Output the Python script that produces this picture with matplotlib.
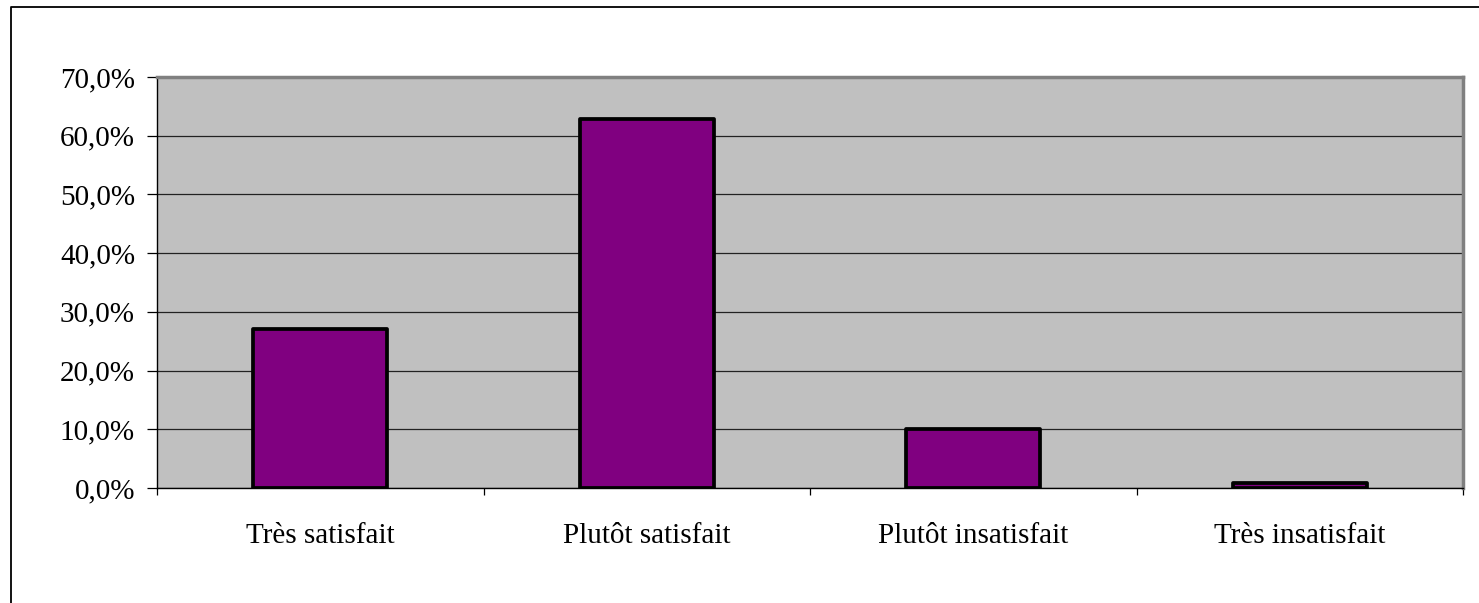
import matplotlib.pyplot as plt
from matplotlib.lines import Line2D
from matplotlib.ticker import FuncFormatter

categories = ['Très satisfait', 'Plutôt satisfait', 'Plutôt insatisfait', 'Très insatisfait']
values = [27.1, 62.9, 10.0, 0.8]
yticks = [0, 10, 20, 30, 40, 50, 60, 70]

W, H = 1479, 603
fig = plt.figure(figsize=(W / 100, H / 100), dpi=100)
fig.patch.set_facecolor('white')

ax = fig.add_axes([157 / W, 1 - 488 / H, (1463 - 157) / W, (488 - 77) / H])
ax.set_facecolor('#C0C0C0')

x = list(range(len(categories)))
ax.bar(x, values, width=0.41, color='#800080', edgecolor='black',
       linewidth=2.7, joinstyle='round', zorder=3)

ax.set_xlim(-0.5, len(categories) - 0.5)
ax.set_ylim(0, 70)
ax.set_yticks(yticks)
ax.yaxis.set_major_formatter(FuncFormatter(lambda v, p: ('%.1f%%' % v).replace('.', ',')))
ax.grid(axis='y', color='#222222', linewidth=0.9, zorder=1)

# category labels centred, ticks at the boundaries
ax.set_xticks([i - 0.5 for i in range(len(categories) + 1)])
ax.set_xticklabels([])
ax.set_xticks(x, minor=True)
ax.set_xticklabels(categories, minor=True)
ax.tick_params(axis='x', which='minor', length=0, pad=25)
ax.tick_params(axis='x', which='major', length=5, width=0.9, color='black')
ax.tick_params(axis='y', length=7.2, width=0.9, pad=8.6)

font = 'Liberation Serif'
for lab in ax.get_xticklabels(minor=True) + ax.get_yticklabels():
    lab.set_fontfamily(font)
    lab.set_fontsize(21)

for s in ['top', 'right']:
    ax.spines[s].set_color('#808080')
    ax.spines[s].set_linewidth(2.5)
for s in ['left', 'bottom']:
    ax.spines[s].set_color('black')
    ax.spines[s].set_linewidth(1.0)

# outer chart frame (runs off the right and bottom of the image)
fig.add_artist(Line2D([11 / W, 11 / W, 1.01], [-0.01, 1 - 7 / H, 1 - 7 / H],
                      transform=fig.transFigure, color='black', linewidth=1.3))

fig.savefig('out.png', dpi=100)
